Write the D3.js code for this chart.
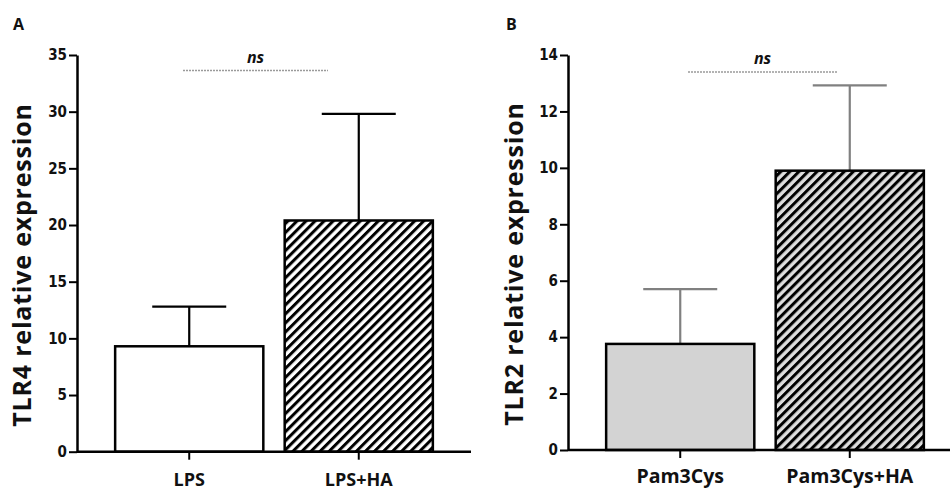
<!DOCTYPE html>
<html>
<head>
<meta charset="utf-8">
<script src="https://cdn.jsdelivr.net/npm/d3@7.9.0/dist/d3.min.js"></script>
<style>
  body { margin: 0; background: #fff; }
  svg { display: block; }
  .tick text { font-family: "DejaVu Sans Condensed", "Liberation Sans Narrow", sans-serif; font-weight: bold; font-size: 15px; fill: #111; }
  .lab { font-family: "Open Sans", "Liberation Sans", sans-serif; font-weight: bold; fill: #111; }
</style>
</head>
<body>
<svg id="chart" width="952" height="490"></svg>
<script>
// panel A data
const catsA = ['LPS', 'LPS+HA'];
const meanA = [9.3, 20.4];
const errA  = [12.8, 29.8];   // top of error bar
const ticksA = [0, 5, 10, 15, 20, 25, 30, 35];

// panel B data
const catsB = ['Pam3Cys', 'Pam3Cys+HA'];
const meanB = [3.76, 9.9];
const errB  = [5.7, 12.92];
const ticksB = [0, 2, 4, 6, 8, 10, 12, 14];

const svg = d3.select('#chart');

// hatch patterns
const defs = svg.append('defs');
function hatch(id, bg) {
  const p = defs.append('pattern')
    .attr('id', id)
    .attr('patternUnits', 'userSpaceOnUse')
    .attr('width', 6.4).attr('height', 10)
    .attr('patternTransform', 'rotate(45)');
  p.append('rect').attr('width', 6.4).attr('height', 10).attr('fill', bg);
  p.append('rect').attr('width', 3).attr('height', 10).attr('fill', '#000');
}
hatch('hatchA', '#fff');
hatch('hatchB', '#dedede');

function panel(o) {
  const g = svg.append('g');
  const x = d3.scaleBand().domain(o.cats).range(o.xr)
    .paddingInner(0.126).paddingOuter(0.225);
  const y = d3.scaleLinear().domain([0, o.max]).range(o.yr);

  const data = o.cats.map((c, i) => ({ c, m: o.mean[i], e: o.err[i], fill: o.fills[i] }));

  // error bars (drawn first, bars cover the bottom part)
  const eb = g.selectAll('.eb').data(data).enter().append('g')
    .attr('stroke', o.errColor).attr('stroke-width', 2.2);
  eb.append('line')
    .attr('x1', d => x(d.c) + x.bandwidth() / 2).attr('x2', d => x(d.c) + x.bandwidth() / 2)
    .attr('y1', d => y(d.m)).attr('y2', d => y(d.e));
  eb.append('line')
    .attr('x1', d => x(d.c) + x.bandwidth() / 2 - 37).attr('x2', d => x(d.c) + x.bandwidth() / 2 + 37)
    .attr('y1', d => y(d.e)).attr('y2', d => y(d.e));

  g.selectAll('.bar').data(data).enter().append('rect')
    .attr('x', d => x(d.c)).attr('width', x.bandwidth())
    .attr('y', d => y(d.m)).attr('height', d => y(0) - y(d.m))
    .attr('fill', d => d.fill).attr('stroke', '#000').attr('stroke-width', 2.5);

  // axes
  const ya = g.append('g').attr('transform', `translate(${o.xr[0]},0)`)
    .call(d3.axisLeft(y).tickValues(o.ticks).tickSize(8).tickSizeOuter(0).tickPadding(2));
  const xa = g.append('g').attr('transform', `translate(0,${y(0)})`)
    .call(d3.axisBottom(x).tickSize(8).tickSizeOuter(0).tickFormat(''));
  [ya, xa].forEach(a => {
    a.select('.domain').attr('stroke', '#000').attr('stroke-width', 2.5);
    a.selectAll('.tick line').attr('stroke', '#000').attr('stroke-width', 2);
  });
  xa.select('.domain').attr('d', `M${o.xr[0]},0H${o.xEnd}`);

  // category labels
  g.selectAll('.cl').data(o.cats).enter().append('text').attr('class', 'lab')
    .attr('x', d => x(d) + x.bandwidth() / 2).attr('y', o.catY)
    .attr('text-anchor', 'middle').attr('font-size', o.catSize).text(d => d);

  // y title
  g.append('text').attr('class', 'lab')
    .attr('transform', `translate(${o.titleX},${o.titleY}) rotate(-90)`)
    .attr('text-anchor', 'middle').attr('font-size', 25)
    .attr('letter-spacing', 0.8).text(o.title);

  // panel letter
  g.append('text').attr('class', 'lab').attr('x', o.letterX).attr('y', 30)
    .attr('font-size', 16).text(o.letter);

  // ns bracket
  g.append('line').attr('x1', o.nsLine[0]).attr('x2', o.nsLine[1])
    .attr('y1', o.nsY).attr('y2', o.nsY)
    .attr('stroke', '#9a9a9a').attr('stroke-width', 1.6).attr('stroke-dasharray', '2,1');
  g.append('text').attr('class', 'lab').attr('font-style', 'italic')
    .attr('x', (o.nsLine[0] + o.nsLine[1]) / 2).attr('y', o.nsY - 8)
    .attr('text-anchor', 'middle').attr('font-size', 16).text('ns');
}

panel({
  cats: catsA, mean: meanA, err: errA, ticks: ticksA, max: 35,
  xr: [77, 471], xEnd: 471, yr: [451.7, 55], catSize: 18, catY: 486,
  fills: ['#fff', 'url(#hatchA)'], errColor: '#000',
  title: 'TLR4 relative expression', titleX: 31, titleY: 265,
  letter: 'A', letterX: 13, nsLine: [183, 328], nsY: 70.5
});

panel({
  cats: catsB, mean: meanB, err: errB, ticks: ticksB, max: 14,
  xr: [568, 962], xEnd: 950, yr: [450, 55], catSize: 19.5, catY: 483,
  fills: ['#d3d3d3', 'url(#hatchB)'], errColor: '#808080',
  title: 'TLR2 relative expression', titleX: 523, titleY: 264,
  letter: 'B', letterX: 506, nsLine: [688, 837], nsY: 72
});
</script>
</body>
</html>
